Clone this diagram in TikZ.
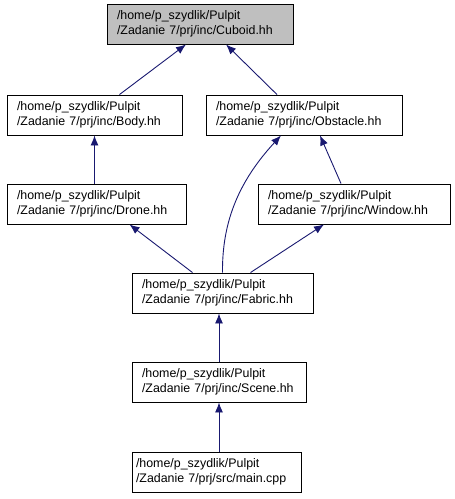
\documentclass[tikz,border=0pt]{standalone}
\usepackage{fontspec}
\setmainfont{Liberation Sans}
\usetikzlibrary{arrows.meta,calc}
\definecolor{edgeblue}{HTML}{191970}
\definecolor{boxgray}{HTML}{BFBFBF}
\begin{document}
\begin{tikzpicture}[x=1pt,y=-1pt,
  box/.style={draw=black, line width=0.9pt, fill=white, minimum height=40pt, inner sep=0pt,
    font=\fontsize{12.4}{15}\selectfont, align=left, anchor=center},
  edge/.style={draw=edgeblue, line width=0.9pt, {Latex[length=10pt,width=8pt]}-}]
\useasboundingbox (0,0) rectangle (455,499);
\node[box, fill=boxgray, minimum width=186pt, text width=166pt] (cuboid) at (200,24) {/home/p\_szydlik/Pulpit\\/Zadanie 7/prj/inc/Cuboid.hh};
\node[box, minimum width=175pt, text width=155pt] (body) at (94.5,115) {/home/p\_szydlik/Pulpit\\/Zadanie 7/prj/inc/Body.hh};
\node[box, minimum width=196pt, text width=176pt] (obstacle) at (304,115) {/home/p\_szydlik/Pulpit\\/Zadanie 7/prj/inc/Obstacle.hh};
\node[box, minimum width=179pt, text width=159pt] (drone) at (96.5,204) {/home/p\_szydlik/Pulpit\\/Zadanie 7/prj/inc/Drone.hh};
\node[box, minimum width=192pt, text width=172pt] (window) at (354,204) {/home/p\_szydlik/Pulpit\\/Zadanie 7/prj/inc/Window.hh};
\node[box, minimum width=181pt, text width=161pt] (fabric) at (222.5,293) {/home/p\_szydlik/Pulpit\\/Zadanie 7/prj/inc/Fabric.hh};
\node[box, minimum width=174pt, text width=154pt] (scene) at (219,382) {/home/p\_szydlik/Pulpit\\/Zadanie 7/prj/inc/Scene.hh};
\node[box, minimum width=169pt, text width=161pt] (main) at (216.5,472) {/home/p\_szydlik/Pulpit\\/Zadanie 7/prj/src/main.cpp};
\draw[edge] ($(cuboid.south)+(-14,0)$) -- ($(body.north)+(25,0)$);
\draw[edge] ($(cuboid.south)+(26,0)$) -- ($(obstacle.north)+(-27,0)$);
\draw[edge] (body.south) -- (drone.north -| body.south);
\draw[edge] ($(obstacle.south)+(-23,0)$) .. controls (240,180) and (222,220) .. ($(fabric.north)+(0,0)$);
\draw[edge] ($(obstacle.south)+(16,0)$) -- ($(window.north)+(-13,0)$);
\draw[edge] ($(drone.south)+(33,0)$) -- ($(fabric.north)+(-30,0)$);
\draw[edge] ($(window.south)+(-30,0)$) -- ($(fabric.north)+(28,0)$);
\draw[edge] (fabric.south -| scene.north) -- (scene.north);
\draw[edge] (scene.south) -- (main.north -| scene.south);
\end{tikzpicture}
\end{document}
